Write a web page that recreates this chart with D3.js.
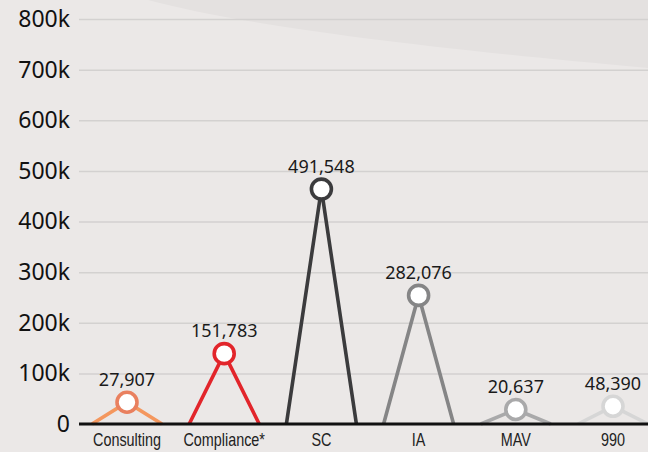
<!DOCTYPE html>
<html>
<head>
<meta charset="utf-8">
<script src="https://cdn.jsdelivr.net/npm/d3@7"></script>
<style>
  html, body { margin: 0; padding: 0; background: #ebe8e7; }
  svg { display: block; }
</style>
</head>
<body>
<div id="chart"></div>
<script>
// data
const categories = ["Consulting", "Compliance*", "SC", "IA", "MAV", "990"];
const counts = [27907, 151783, 491548, 282076, 20637, 48390];
// height at which the picture actually puts each marker (it is not to scale)
const markerLevels = [43000, 139000, 464000, 254000, 28600, 35000];
const yTicks = [0, 100000, 200000, 300000, 400000, 500000, 600000, 700000, 800000];
const colours = ["#f4975e", "#e2252b", "#3b3b3d", "#858586", "#a9a9aa", "#d6d6d6"];
const ringColours = ["#e9805f", "#e2252b", "#3b3b3d", "#858586", "#a9a9aa", "#d6d6d6"];

const width = 648;
const height = 452;
const marginLeft = 79;
const marginTop = 19;
const marginBottom = 28;

const x = d3.scalePoint().domain(categories).range([127, 613]);
const y = d3.scaleLinear().domain([0, 800000]).range([height - marginBottom, marginTop]);
const halfWidth = 35;

const svg = d3.select("#chart").append("svg")
  .attr("width", width)
  .attr("height", height);

// background, with the soft curved shade at the top right
svg.append("rect").attr("width", width).attr("height", height).attr("fill", "#ebe8e7");
svg.append("path")
  .attr("d", "M148,0 C230,22 380,44 648,68 L648,0 Z")
  .attr("fill", "#e4e1e0");

// gridlines + tick labels
const yAxis = d3.axisLeft(y)
  .tickValues(yTicks)
  .tickFormat(d => d === 0 ? "0" : d / 1000 + "k")
  .tickSize(-(width - marginLeft))
  .tickPadding(9);

const gy = svg.append("g")
  .attr("transform", `translate(${marginLeft},0)`)
  .call(yAxis);
gy.select(".domain").remove();
gy.selectAll(".tick line").attr("stroke", "#d3d1d0").attr("stroke-width", 1.5);
gy.selectAll(".tick text")
  .attr("fill", "#111")
  .style("font", "23px 'Noto Sans', sans-serif");

// spikes
const rows = categories.map((c, i) => ({ c, v: counts[i], m: markerLevels[i], i }));

svg.append("g").selectAll("path")
  .data(rows)
  .join("path")
  .attr("d", d => {
    const cx = x(d.c);
    return `M${cx - halfWidth},${y(0)} L${cx},${y(d.m)} L${cx + halfWidth},${y(0)}`;
  })
  .attr("fill", "none")
  .attr("stroke", d => colours[d.i])
  .attr("stroke-width", 3.6)
  .attr("stroke-linejoin", "miter");

// baseline
svg.append("line")
  .attr("x1", marginLeft).attr("x2", width)
  .attr("y1", y(0)).attr("y2", y(0))
  .attr("stroke", "#111").attr("stroke-width", 3);

// rings
svg.append("g").selectAll("circle")
  .data(rows)
  .join("circle")
  .attr("cx", d => x(d.c))
  .attr("cy", d => y(d.m))
  .attr("r", 10)
  .attr("fill", "#fff")
  .attr("stroke", d => ringColours[d.i])
  .attr("stroke-width", 3.6);

// value labels
svg.append("g").selectAll("text")
  .data(rows)
  .join("text")
  .attr("x", d => x(d.c))
  .attr("y", d => y(d.m) - 16.5)
  .attr("text-anchor", "middle")
  .attr("fill", "#1a1a1a")
  .style("font", "18px 'Noto Sans', sans-serif")
  .text(d => d3.format(",")(d.v));

// category labels (condensed look)
svg.append("g").selectAll("text")
  .data(rows)
  .join("text")
  .attr("transform", d => `translate(${x(d.c)},${y(0) + 22}) scale(0.8,1)`)
  .attr("text-anchor", "middle")
  .attr("fill", "#222")
  .style("font", "18px 'Liberation Sans', sans-serif")
  .text(d => d.c);
</script>
</body>
</html>
